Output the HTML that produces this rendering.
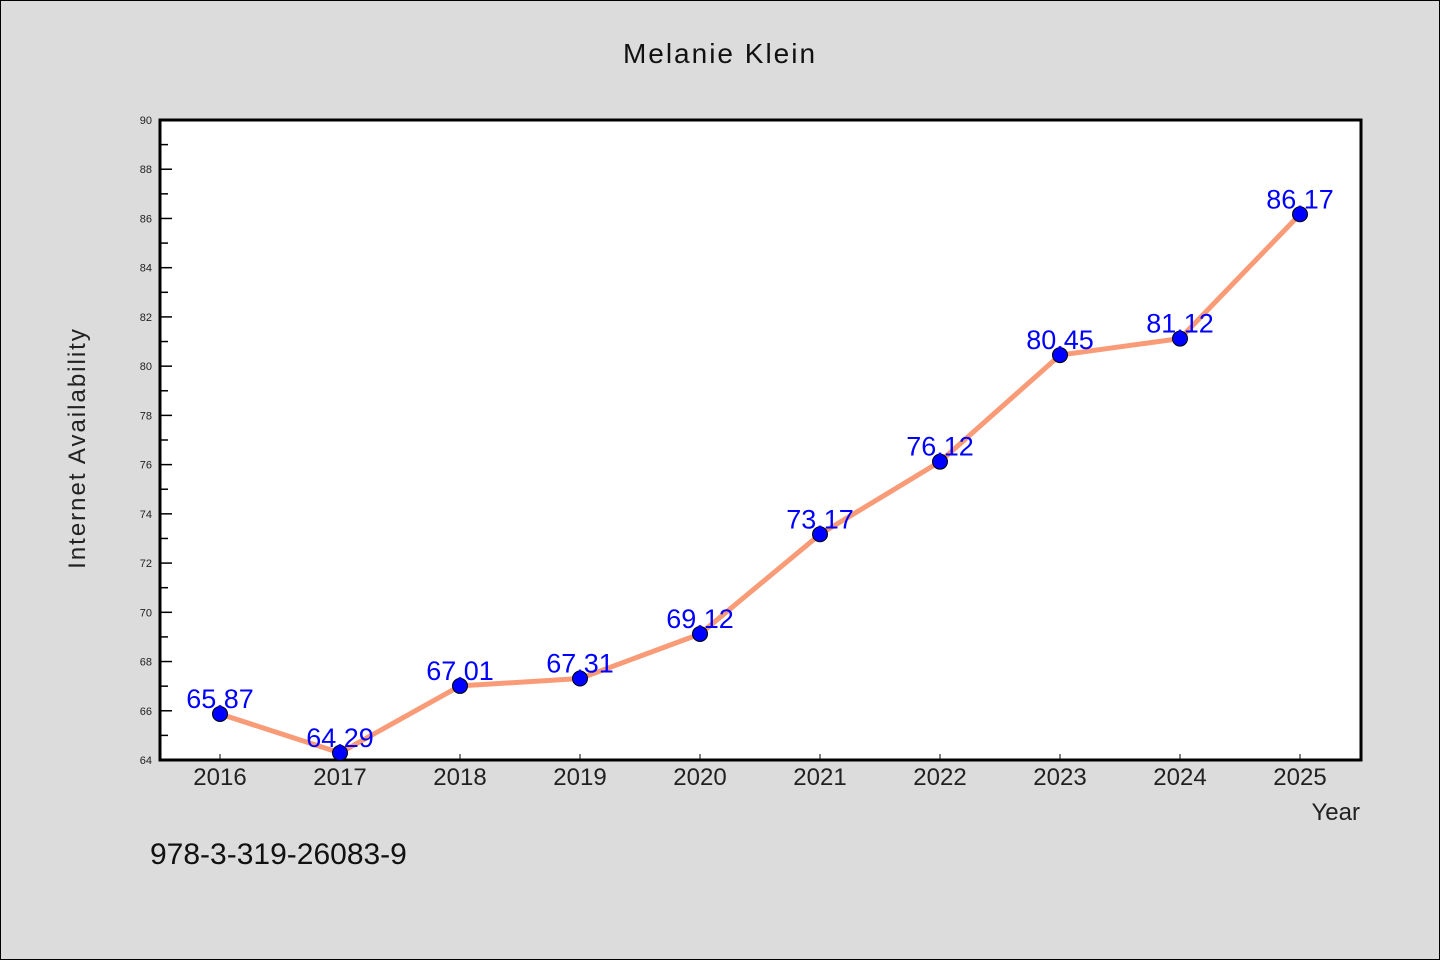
<!DOCTYPE html>
<html><head><meta charset="utf-8"><style>
html,body{margin:0;padding:0;background:#dcdcdc;}
svg{display:block;font-family:"WenQuanYi Zen Hei","Liberation Sans",sans-serif;}
</style></head><body>
<svg id="chart" width="1440" height="960" viewBox="0 0 1440 960">
<rect x="0.5" y="0.5" width="1439" height="959" fill="#dcdcdc" stroke="#000" stroke-width="1"/>
<text x="720" y="63" text-anchor="middle" font-size="28" fill="#111" letter-spacing="2">Melanie Klein</text>
<rect x="160" y="120" width="1201" height="640" fill="#fff"/>
<g id="yticks"></g><g id="xticks"></g>
<rect x="160" y="120" width="1201" height="640" fill="none" stroke="#000" stroke-width="3"/>
<g id="series"></g>
<text transform="translate(85,448) rotate(-90)" text-anchor="middle" font-size="24" fill="#222" letter-spacing="2">Internet Availability</text>
<text x="1360" y="820" text-anchor="end" font-size="24" fill="#222">Year</text>
<text x="150" y="864" font-size="30" fill="#111">978-3-319-26083-9</text>
</svg>
<script>
const years=[2016,2017,2018,2019,2020,2021,2022,2023,2024,2025];
const values=[65.87,64.29,67.01,67.31,69.12,73.17,76.12,80.45,81.12,86.17];
const yTickLabels=[64,66,68,70,72,74,76,78,80,82,84,86,88,90];
const NS="http://www.w3.org/2000/svg";
const X0=160,X1=1361,Y0=760,Y1=120,yMin=64,yMax=90;
function xs(i){return 220+i*(1300-220)/(years.length-1);}
function ys(v){return Y0-(v-yMin)/(yMax-yMin)*(Y0-Y1);}
function mk(t,a,p){const e=document.createElementNS(NS,t);for(const k in a)e.setAttribute(k,a[k]);p.appendChild(e);return e;}
const yt=document.getElementById('yticks');
yTickLabels.forEach(v=>{
 const y=ys(v);
 const l=mk('line',{x1:X0,x2:X0+12,y1:y,y2:y,stroke:'#000','stroke-width':1.5},yt);
 
 
 const t=mk('text',{x:X0-8,y:y+4,'text-anchor':'end','font-size':11,fill:'#222'},yt);
 t.textContent=v;
 
 
 if(v<yMax){const ym=ys(v+1);
  const m=mk('line',{x1:X0,x2:X0+8,y1:ym,y2:ym,stroke:'#000','stroke-width':1.5},yt);
  
  }
});
const xt=document.getElementById('xticks');
years.forEach((yr,i)=>{
 const x=xs(i);
 const l=mk('line',{x1:x,x2:x,y1:Y0,y2:Y0-6,stroke:'#000','stroke-width':1},xt);
 
 
 const t=mk('text',{x:x,y:785,'text-anchor':'middle','font-size':24,fill:'#222'},xt);
 t.textContent=yr;
 
 
});
const s=document.getElementById('series');
const pl=mk('polyline',{points:values.map((v,i)=>xs(i)+','+ys(v)).join(' '),fill:'none',stroke:'#f99b77','stroke-width':5,'stroke-linejoin':'round'},s);


values.forEach((v,i)=>{
 const c=mk('circle',{cx:xs(i),cy:ys(v),r:7.5,fill:'#0000ff',stroke:'#000','stroke-width':1},s);
 
 
});
values.forEach((v,i)=>{
 const t=mk('text',{x:xs(i),y:ys(v)-6,'text-anchor':'middle','font-size':27,fill:'#0000ff'},s);
 t.textContent=v.toFixed(2);
 
 
});
</script>
</body></html>
